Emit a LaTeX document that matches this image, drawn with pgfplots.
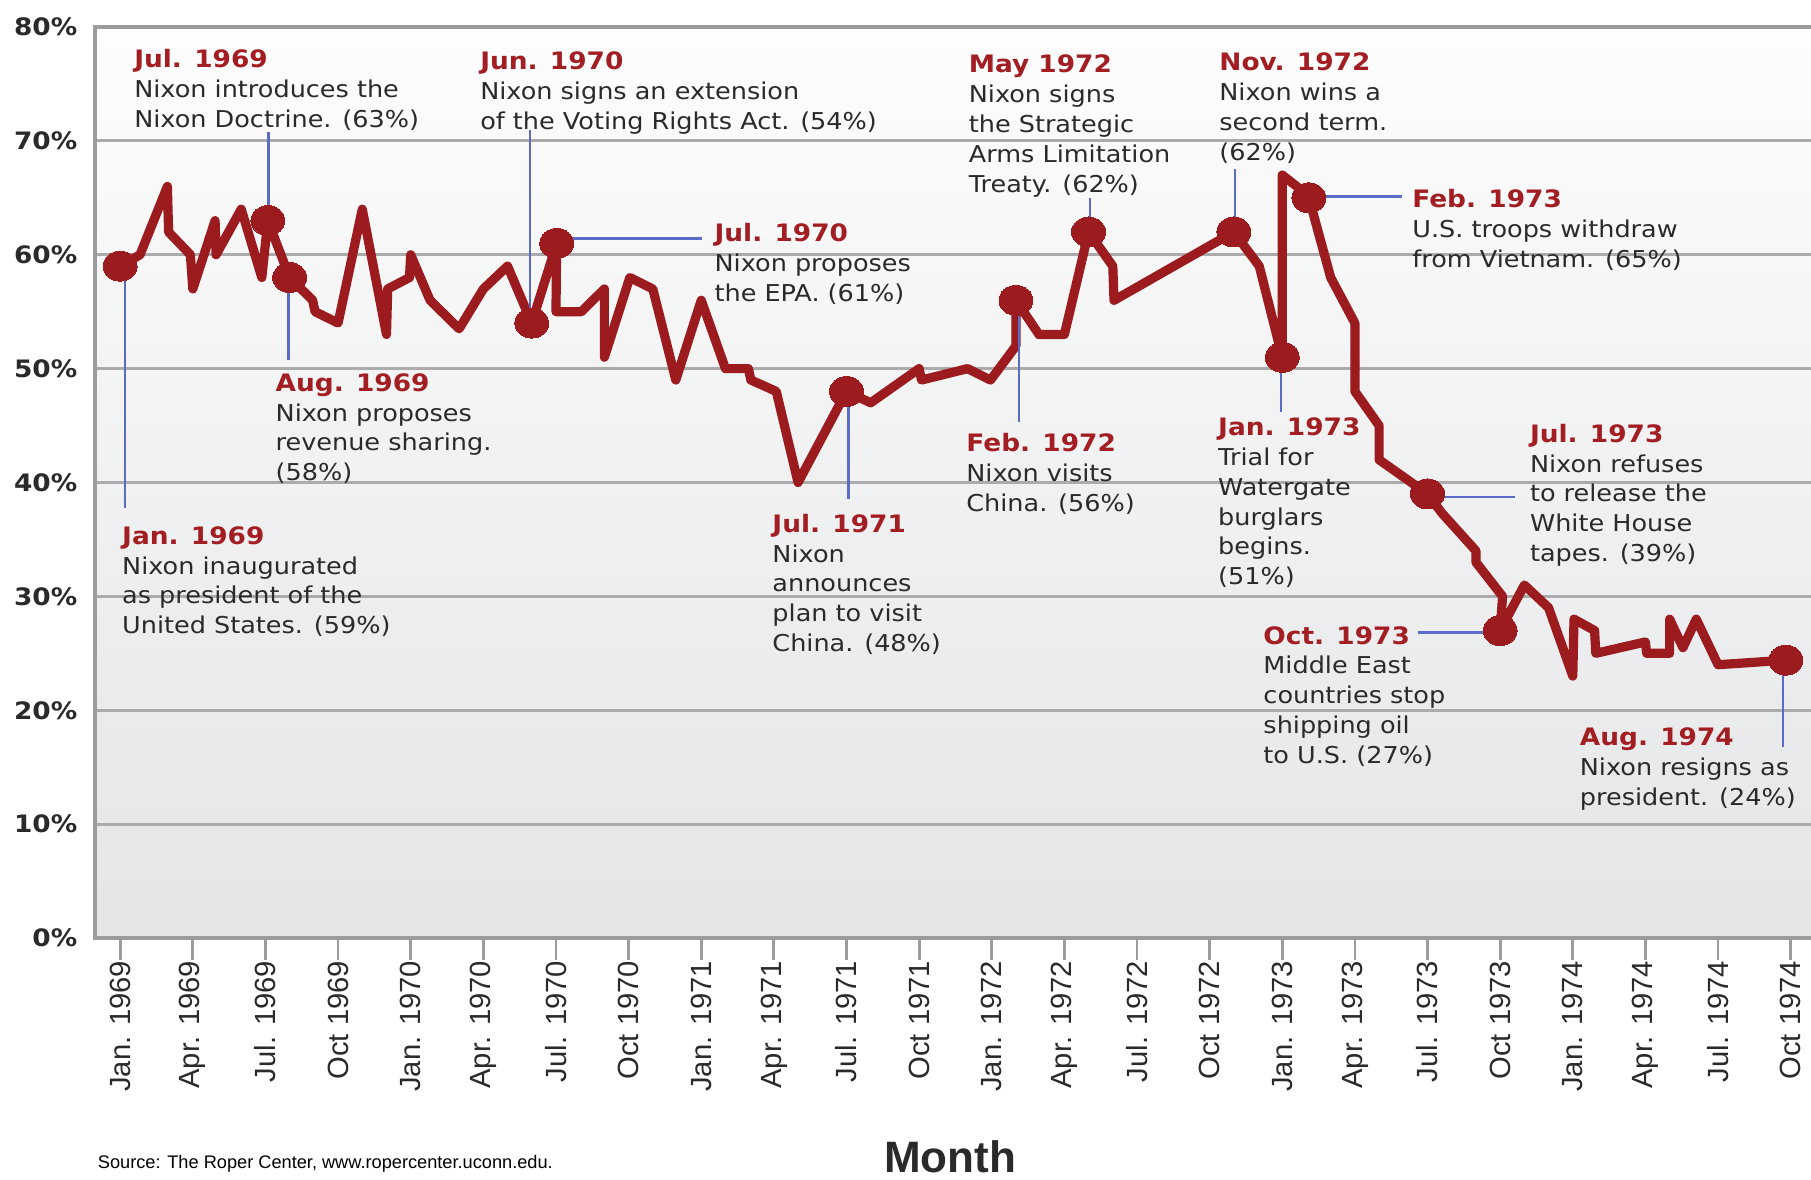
\documentclass[border=0pt]{standalone}
\usepackage{pgfplots}
\pgfplotsset{compat=1.18}
\usepackage{fontspec}
\setmainfont{Liberation Sans}
\newfontfamily\annfont[FakeStretch=1.1]{DejaVu Sans}
\definecolor{linered}{HTML}{9B1B1E}
\definecolor{headred}{HTML}{A21E22}
\definecolor{connblue}{HTML}{5A6CC8}
\definecolor{gridgray}{HTML}{ABABAB}
\definecolor{framegray}{HTML}{9C9C9C}
\definecolor{bgtop}{HTML}{FDFDFD}
\definecolor{bgbot}{HTML}{E4E5E7}
\definecolor{txt}{HTML}{2A2A2A}
\tikzset{
  ann/.style={anchor=north west, inner sep=0pt, align=left, text=txt,
    font=\annfont\fontsize{5.8}{7.45}\selectfont},
  conn/.style={connblue, line width=0.6pt}
}
\newcommand{\hd}[1]{{\bfseries\fontsize{6}{7.45}\selectfont\color{headred}#1}}
\begin{document}
\begin{tikzpicture}
\begin{axis}[
  name=ax,
  scale only axis,
  width=429pt, height=227.75pt,
  xmin=-1.04, xmax=69.84,
  ymin=0, ymax=80,
  clip=false,
  axis line style={draw=none},
  axis background/.style={shade, top color=bgtop, bottom color=bgbot},
  ytick={0,10,...,80},
  yticklabels={0\%,10\%,20\%,30\%,40\%,50\%,60\%,70\%,80\%},
  ymajorgrids,
  grid style={gridgray, line width=0.7pt},
  ytick style={draw=none},
  yticklabel style={font=\annfont\bfseries\fontsize{6}{7}\selectfont, text=txt, inner sep=0pt, xshift=1.25pt},
  xtick={0,3,...,69},
  xticklabels={Jan. 1969, Apr. 1969, Jul. 1969, Oct 1969, Jan. 1970, Apr. 1970, Jul. 1970, Oct 1970, Jan. 1971, Apr. 1971, Jul. 1971, Oct 1971, Jan. 1972, Apr. 1972, Jul. 1972, Oct 1972, Jan. 1973, Apr. 1973, Jul. 1973, Oct 1973, Jan. 1974, Apr. 1974, Jul. 1974, Oct 1974},
  xtick pos=bottom,
  tick align=outside,
  major tick length=5.5pt,
  xtick style={framegray, line width=0.7pt},
  xticklabel style={rotate=90, anchor=east, inner sep=0pt, font=\fontsize{7.3}{8}\selectfont, text=txt},
]
% frame
\draw[framegray, line width=1pt] (rel axis cs:1,1) -- (rel axis cs:0,1) -- (rel axis cs:0,0) -- (rel axis cs:1,0);

\addplot[linered, line width=2.3pt, line join=round, line cap=round] coordinates {
(0,59) (0.82,60) (1.95,66) (2.0,62) (2.9,60) (3.0,57) (3.92,63) (3.96,60) (5.0,64)
(5.85,58) (6.1,63) (7.0,58) (7.95,56) (8.05,55) (9.0,54) (10.0,64) (11.0,53) (11.05,57)
(11.95,58) (12.0,60) (12.8,56) (14.0,53.5) (15.0,57) (16.0,59) (17.0,54) (18.03,61)
(18.0,55) (19.05,55) (20.0,57) (20.0,51) (21.05,58) (22.0,57) (22.95,49) (24.0,56)
(25.0,50) (25.95,50) (26.05,49) (27.1,48) (28.0,40) (29.0,44) (30.0,48) (31.0,47)
(33.0,50) (33.1,49) (35.0,50) (35.95,49) (37.0,52) (37.0,56) (37.95,53) (39.0,53)
(40.0,62) (41.0,59) (41.05,56) (46.0,62) (47.05,59) (48.0,51) (48.0,67) (48.6,66)
(49.1,65) (50.0,58) (51.0,54) (51.0,48) (52.0,45) (52.0,42) (54.0,39) (54.6,37.3)
(56.0,34) (56.0,33) (57.1,30) (57.0,27) (58.0,31) (59.0,29) (60.0,23) (60.05,28)
(60.9,27) (60.95,25) (63.0,26) (63.05,25) (64.0,25) (64.0,28) (64.55,25.5) (65.1,28)
(66.0,24) (68.8,24.4)
};
\addplot[only marks, color=linered, mark=*, mark size=3.75pt, mark options={xscale=1.13, fill=linered, draw=linered, line width=0pt}] coordinates {
(0,59) (6.1,63) (7.0,58) (17.0,54) (18.03,61) (30.0,48) (37.0,56) (40.0,62) (46.0,62)
(48.0,51) (49.1,65) (54.0,39) (57.0,27) (68.8,24.4)
};

% connectors
\draw[conn] (axis cs:0.2,59) -- (axis cs:0.2,37.8);
\draw[conn] (axis cs:6.12,63) -- (axis cs:6.12,70.8);
\draw[conn] (axis cs:6.95,58) -- (axis cs:6.95,50.8);
\draw[conn] (axis cs:16.93,54) -- (axis cs:16.93,71.0);
\draw[conn] (axis cs:18.03,61.44) -- (axis cs:24.02,61.44);
\draw[conn] (axis cs:30.08,48) -- (axis cs:30.08,38.55);
\draw[conn] (axis cs:37.13,56) -- (axis cs:37.13,45.34);
\draw[conn] (axis cs:40.06,62) -- (axis cs:40.06,64.95);
\draw[conn] (axis cs:46.05,62) -- (axis cs:46.05,67.5);
\draw[conn] (axis cs:47.95,51) -- (axis cs:47.95,46.2);
\draw[conn] (axis cs:49.3,65.1) -- (axis cs:52.94,65.1);
\draw[conn] (axis cs:54.35,38.75) -- (axis cs:57.6,38.75);
\draw[conn] (axis cs:53.6,26.84) -- (axis cs:56.87,26.84);
\draw[conn] (axis cs:68.69,24.4) -- (axis cs:68.69,16.8);

% annotations
\node[ann] at (axis cs:0.55,78.1) {\hd{Jul. 1969}\\Nixon introduces the\\Nixon Doctrine. (63\%)};
\node[ann] at (axis cs:14.84,77.9) {\hd{Jun. 1970}\\Nixon signs an extension\\of the Voting Rights Act. (54\%)};
\node[ann] at (axis cs:35.02,77.6) {\hd{May 1972}\\Nixon signs\\the Strategic\\Arms Limitation\\Treaty. (62\%)};
\node[ann] at (axis cs:45.37,77.8) {\hd{Nov. 1972}\\Nixon wins a\\second term.\\(62\%)};
\node[ann] at (axis cs:53.34,65.8) {\hd{Feb. 1973}\\U.S. troops withdraw\\from Vietnam. (65\%)};
\node[ann] at (axis cs:24.52,62.8) {\hd{Jul. 1970}\\Nixon proposes\\the EPA. (61\%)};
\node[ann] at (axis cs:6.39,49.65) {\hd{Aug. 1969}\\Nixon proposes\\revenue sharing.\\(58\%)};
\node[ann] at (axis cs:0.05,36.2) {\hd{Jan. 1969}\\Nixon inaugurated\\as president of the\\United States. (59\%)};
\node[ann] at (axis cs:26.91,37.3) {\hd{Jul. 1971}\\Nixon\\announces\\plan to visit\\China. (48\%)};
\node[ann] at (axis cs:34.92,44.4) {\hd{Feb. 1972}\\Nixon visits\\China. (56\%)};
\node[ann] at (axis cs:45.32,45.75) {\hd{Jan. 1973}\\Trial for\\Watergate\\burglars\\begins.\\(51\%)};
\node[ann] at (axis cs:58.2,45.2) {\hd{Jul. 1973}\\Nixon refuses\\to release the\\White House\\tapes. (39\%)};
\node[ann] at (axis cs:47.19,27.45) {\hd{Oct. 1973}\\Middle East\\countries stop\\shipping oil\\to U.S. (27\%)};
\node[ann] at (axis cs:60.26,18.5) {\hd{Aug. 1974}\\Nixon resigns as\\president. (24\%)};

% axis title and source
\node[anchor=base, font=\bfseries\fontsize{11}{13}\selectfont, text=txt] at (axis cs:34.28,-20.6) {Month};
\node[anchor=base west, inner sep=0pt, font=\fontsize{4.55}{5.5}\selectfont, text=black] at (axis cs:-0.954,-20.2) {Source: The Roper Center, www.ropercenter.uconn.edu.};
\end{axis}
\pgfresetboundingbox
\path[use as bounding box] ([xshift=-23.75pt,yshift=-60.25pt]ax.south west) rectangle ([yshift=6.75pt]ax.north east);
\end{tikzpicture}
\end{document}
